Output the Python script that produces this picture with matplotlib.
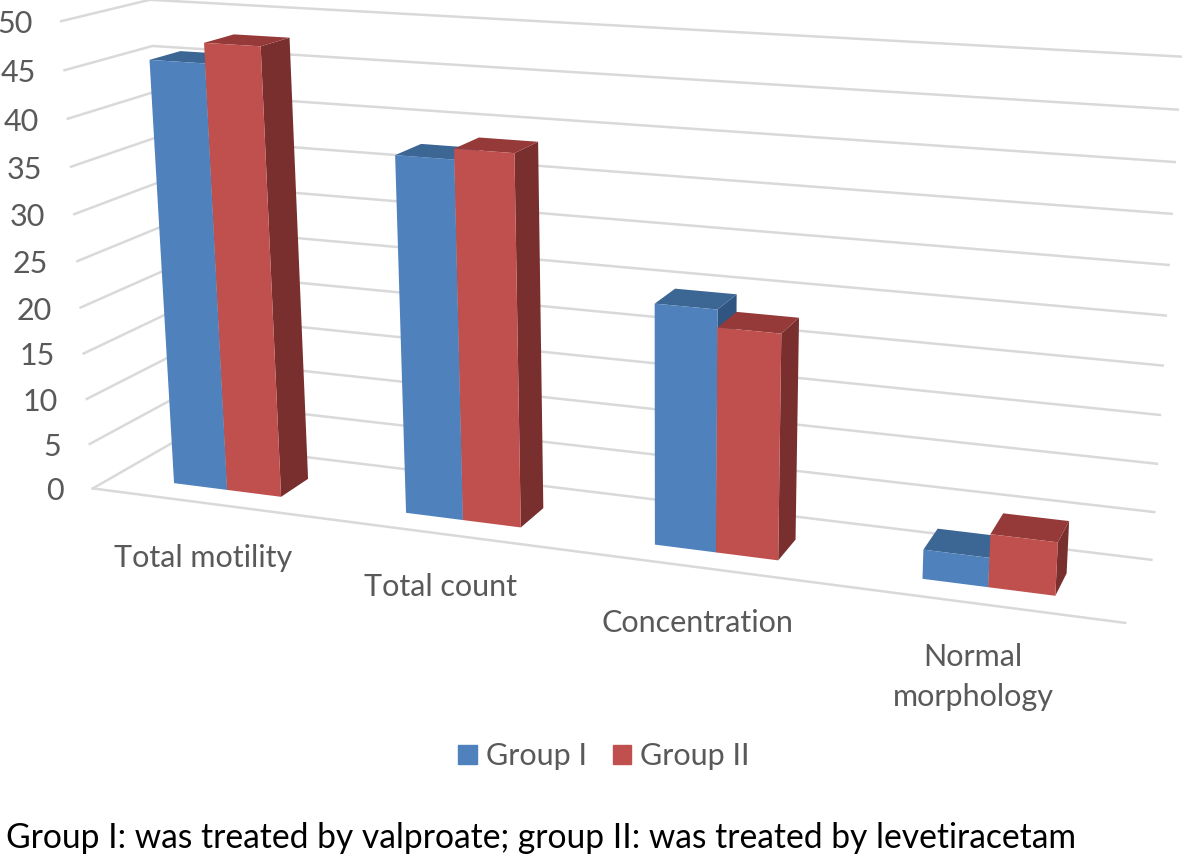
import numpy as np
import matplotlib
matplotlib.use("Agg")
import matplotlib.pyplot as plt
from matplotlib.patches import Patch

plt.rcParams['font.family'] = ['Lato', 'DejaVu Sans']

categories = ["Total motility", "Total count", "Concentration", "Normal\nmorphology"]
group_1 = [45.8, 37.8, 25.0, 3.0]
group_2 = [47.9, 38.9, 23.2, 5.4]
y_ticks = [0, 5, 10, 15, 20, 25, 30, 35, 40, 45, 50]
series_names = ["Group I", "Group II"]
caption = "Group I: was treated by valproate; group II: was treated by levetiracetam"

grid_col = "#d9d9d9"
text_col = "#595959"
blue = ("#4f81bd", "#3c6694", "#2f5580")
red = ("#c0504d", "#953a38", "#7a2f2f")

# camera for the fake 3d box: (category, depth, value) -> pixel, fitted to a few seen points
view_3d = [(0, 1, 50), (4, 1, 50), (4, 1, 0), (0, 1, 0), (0, 0, 50), (0, 0, 0), (4, 0, 0),
           (0.5, 0.26, 0), (1.5, 0.26, 0), (2.5, 0.26, 0), (3.5, 0.26, 0),
           (0.5, 0.26, 47.9), (1.5, 0.26, 38.9)]
view_px = [(145, 0), (1180, 55), (1151, 563), (180, 440), (62, 22), (90, 489), (1125, 623),
           (225, 490), (462, 520), (716, 551), (989, 586),
           (207, 43), (457, 149)]


def fit_camera():
    rows = []
    rhs = []
    for (c, d, v), (px, py) in zip(view_3d, view_px):
        X = [c / 4, d, v / 50, 1]
        rows.append(X + [0, 0, 0, 0] + [-px * X[0], -px * X[1], -px * X[2]])
        rhs.append(px)
        rows.append([0, 0, 0, 0] + X + [-py * X[0], -py * X[1], -py * X[2]])
        rhs.append(py)
    sol = np.linalg.lstsq(np.array(rows, float), np.array(rhs, float), rcond=None)[0]
    return np.append(sol, 1).reshape(3, 4)


cam = fit_camera()


def project(c, d, v):
    p = cam @ np.array([c / 4, d, v / 50, 1])
    return p[0] / p[2], p[1] / p[2]


bar_w = 0.235
depth_front = 0.26
depth_back = 0.62


def draw_bar(ax, c0, c1, value, cols):
    f0, f1 = depth_front, depth_back
    front = [project(c0, f0, 0), project(c1, f0, 0), project(c1, f0, value), project(c0, f0, value)]
    top = [project(c0, f0, value), project(c1, f0, value), project(c1, f1, value), project(c0, f1, value)]
    side = [project(c1, f0, 0), project(c1, f1, 0), project(c1, f1, value), project(c1, f0, value)]
    ax.fill(*zip(*side), color=cols[2], lw=0)
    ax.fill(*zip(*top), color=cols[1], lw=0)
    ax.fill(*zip(*front), color=cols[0], lw=0)


fig = plt.figure(figsize=(11.82, 8.57), dpi=100)
ax = fig.add_axes([0, 0, 1, 1])
ax.set_xlim(0, 1182)
ax.set_ylim(857, 0)
ax.axis("off")

# walls
for t in y_ticks:
    pts = [project(0, 0, t), project(0, 1, t), project(4, 1, t)]
    ax.plot(*zip(*pts), color=grid_col, lw=1.8, zorder=1)
    x, y = project(0, 0, t)
    ax.text(x - 29, y + 3, str(t), ha="right", va="center", fontsize=22, color=text_col)
ax.plot(*zip(project(0, 0, 0), project(4, 0, 0)), color=grid_col, lw=1.8, zorder=1)

for i in range(len(categories)):
    mid = i + 0.5
    draw_bar(ax, mid - bar_w, mid, group_1[i], blue)
    draw_bar(ax, mid, mid + bar_w, group_2[i], red)

label_x = [203, 441, 697, 973]
label_y = [558, 587, 623, 677]
for i, name in enumerate(categories):
    ax.text(label_x[i], label_y[i], name, ha="center", va="center", fontsize=22,
            color=text_col, linespacing=1.5)

handles = [Patch(color=blue[0], label=series_names[0]), Patch(color=red[0], label=series_names[1])]
leg = ax.legend(handles=handles, ncol=2, loc="center", bbox_to_anchor=(604 / 1182, 1 - 756 / 857),
                bbox_transform=fig.transFigure, frameon=False, fontsize=22, labelcolor=text_col,
                handlelength=0.6, handleheight=0.6, handletextpad=0.3, columnspacing=0.85,
                borderpad=0, borderaxespad=0)

ax.text(6, 838, caption, ha="left", va="center", fontsize=24.2, color="black")

fig.savefig("out.png", dpi=100)
